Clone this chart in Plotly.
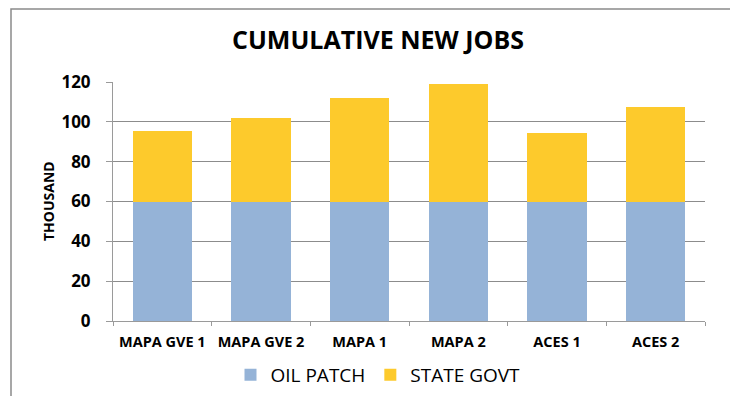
import plotly.graph_objects as go

categories = ["MAPA GVE 1", "MAPA GVE 2", "MAPA 1", "MAPA 2", "ACES 1", "ACES 2"]
oil_patch = [60, 60, 60, 60, 60, 60]
state_govt = [35.3, 42.0, 51.8, 59.0, 34.5, 47.2]
y_ticks = [0, 20, 40, 60, 80, 100, 120]

W, H = 730, 396
L, R, T, B = 113, 25, 82, 75
pw, ph = W - L - R, H - T - B

def px_x(x):
    return (x - L) / pw

def px_y(y):
    return (H - B - y) / ph

FONT = "Open Sans"

fig = go.Figure()
fig.add_trace(go.Bar(name="OIL PATCH", x=categories, y=oil_patch,
                     marker=dict(color="#95B3D7", line=dict(width=0))))
fig.add_trace(go.Bar(name="STATE GOVT", x=categories, y=state_govt,
                     marker=dict(color="#FDCA2C", line=dict(width=0))))

fig.update_layout(
    barmode="stack",
    bargap=0.4,
    width=W, height=H,
    margin=dict(l=L, r=R, t=T, b=B, autoexpand=False),
    plot_bgcolor="white", paper_bgcolor="white",
    font=dict(family=FONT, color="black"),
    title=dict(text="<b>CUMULATIVE NEW JOBS</b>", x=378 / W, xanchor="center",
               y=1 - 40 / H, yanchor="middle", yref="container",
               font=dict(size=25, family=FONT, color="black")),
    showlegend=True,
    legend=dict(orientation="h", x=px_x(378), xanchor="center", y=px_y(375), yanchor="middle",
                font=dict(size=19, family=FONT, color="black"),
                itemwidth=30, traceorder="normal", itemclick=False),
    xaxis=dict(showline=True, linecolor="#9a9a9a", linewidth=1,
               ticks="outside", tickson="boundaries", ticklen=4, tickcolor="#9a9a9a",
               tickangle=0,
               tickfont=dict(size=14.5, family=FONT, color="black", weight="bold"),
               ticklabelstandoff=8, showgrid=False, zeroline=False, automargin=False),
    yaxis=dict(range=[0, 120], tickvals=y_ticks, showline=True, linecolor="#9a9a9a", linewidth=1,
               ticks="outside", ticklen=6, tickcolor="#9a9a9a",
               tickfont=dict(size=17, family=FONT, color="black", weight="bold"),
               ticklabelstandoff=12, automargin=False,
               showgrid=True, gridcolor="#8c8c8c", gridwidth=1, zeroline=False),
    annotations=[dict(text="<b>THOUSAND</b>", x=px_x(48), y=px_y(201), xref="paper", yref="paper",
                      textangle=-90, showarrow=False, xanchor="center", yanchor="middle",
                      font=dict(size=14, family=FONT, color="black"))],
    shapes=[dict(type="rect", xref="paper", yref="paper",
                 x0=px_x(11), x1=px_x(760), y0=px_y(430), y1=px_y(9),
                 line=dict(color="#8a8a8a", width=1.5), fillcolor="rgba(0,0,0,0)", layer="below")],
)

fig.write_html("out.html")
